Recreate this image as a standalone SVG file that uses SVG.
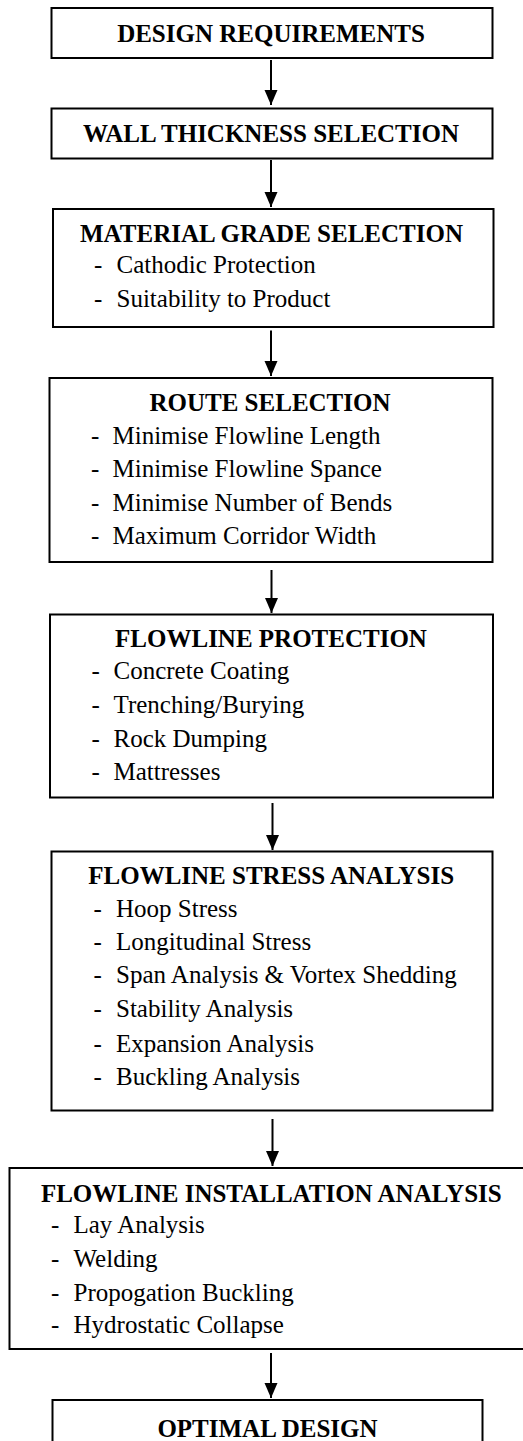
<svg xmlns="http://www.w3.org/2000/svg" width="523" height="1441" viewBox="0 0 523 1441">
<defs>
<style>
.box{fill:#fff;stroke:#000;stroke-width:2}
.t{font-family:"Liberation Serif","Times New Roman",serif;font-size:25px;font-weight:bold;fill:#000;text-anchor:middle}
.i{font-family:"Liberation Serif","Times New Roman",serif;font-size:25px;fill:#000}
.c{stroke:#000;stroke-width:2;fill:none;marker-end:url(#ah)}
</style>
<marker id="ah" markerUnits="userSpaceOnUse" markerWidth="15" markerHeight="14" refX="15" refY="7" orient="auto" viewBox="0 0 15 14">
<path d="M0,0.5 L15,7 L0,13.5 Z" fill="#000"/>
</marker>
</defs>
<rect width="523" height="1441" fill="#fff"/>
<g id="connectors">
<path class="c" d="M271,60 V105"/>
<path class="c" d="M271,160 V207"/>
<path class="c" d="M271,330.5 V376"/>
<path class="c" d="M271.5,570 V613"/>
<path class="c" d="M272.5,803 V850"/>
<path class="c" d="M272.5,1119 V1166"/>
<path class="c" d="M271,1353 V1398"/>
</g>
<g id="n1">
<rect class="box" x="51.5" y="8" width="441" height="50"/>
<text class="t" x="271" y="41.7">DESIGN REQUIREMENTS</text>
</g>
<g id="n2">
<rect class="box" x="51.5" y="108.5" width="441" height="50"/>
<text class="t" x="271" y="142.3">WALL THICKNESS SELECTION</text>
</g>
<g id="n3">
<rect class="box" x="53" y="209" width="440.5" height="118"/>
<text class="t" x="271.5" y="241.7">MATERIAL GRADE SELECTION</text>
<text class="i" y="273.3"><tspan x="94">-</tspan><tspan x="116.5">Cathodic Protection</tspan></text>
<text class="i" y="307.3"><tspan x="94">-</tspan><tspan x="116.5">Suitability to Product</tspan></text>
</g>
<g id="n4">
<rect class="box" x="49.5" y="378" width="443" height="184"/>
<text class="t" x="270" y="410.7">ROUTE SELECTION</text>
<text class="i" y="444"><tspan x="91">-</tspan><tspan x="112.5">Minimise Flowline Length</tspan></text>
<text class="i" y="476.7"><tspan x="91">-</tspan><tspan x="112.5">Minimise Flowline Spance</tspan></text>
<text class="i" y="510.7"><tspan x="91">-</tspan><tspan x="112.5">Minimise Number of Bends</tspan></text>
<text class="i" y="544"><tspan x="91">-</tspan><tspan x="112.5">Maximum Corridor Width</tspan></text>
</g>
<g id="n5">
<rect class="box" x="50" y="614.5" width="443" height="183"/>
<text class="t" x="271" y="647.3">FLOWLINE PROTECTION</text>
<text class="i" y="679.3"><tspan x="91.5">-</tspan><tspan x="113.5">Concrete Coating</tspan></text>
<text class="i" y="713.3"><tspan x="91.5">-</tspan><tspan x="113.5">Trenching/Burying</tspan></text>
<text class="i" y="746.7"><tspan x="91.5">-</tspan><tspan x="113.5">Rock Dumping</tspan></text>
<text class="i" y="780"><tspan x="91.5">-</tspan><tspan x="113.5">Mattresses</tspan></text>
</g>
<g id="n6">
<rect class="box" x="51.5" y="851.5" width="441" height="259"/>
<text class="t" x="271.2" y="884">FLOWLINE STRESS ANALYSIS</text>
<text class="i" y="916.7"><tspan x="93.5">-</tspan><tspan x="116">Hoop Stress</tspan></text>
<text class="i" y="950"><tspan x="93.5">-</tspan><tspan x="116">Longitudinal Stress</tspan></text>
<text class="i" y="983.3"><tspan x="93.5">-</tspan><tspan x="116">Span Analysis &amp; Vortex Shedding</tspan></text>
<text class="i" y="1017.3"><tspan x="93.5">-</tspan><tspan x="116">Stability Analysis</tspan></text>
<text class="i" y="1051.7"><tspan x="93.5">-</tspan><tspan x="116">Expansion Analysis</tspan></text>
<text class="i" y="1085"><tspan x="93.5">-</tspan><tspan x="116">Buckling Analysis</tspan></text>
</g>
<g id="n7">
<rect class="box" x="9.5" y="1168" width="520" height="181"/>
<text class="t" x="271.3" y="1201.7">FLOWLINE INSTALLATION ANALYSIS</text>
<text class="i" y="1233.3"><tspan x="51">-</tspan><tspan x="73.5">Lay Analysis</tspan></text>
<text class="i" y="1266.7"><tspan x="51">-</tspan><tspan x="73.5">Welding</tspan></text>
<text class="i" y="1300.7"><tspan x="51">-</tspan><tspan x="73.5">Propogation Buckling</tspan></text>
<text class="i" y="1333.3"><tspan x="51">-</tspan><tspan x="73.5">Hydrostatic Collapse</tspan></text>
</g>
<g id="n8">
<rect class="box" x="52.5" y="1400" width="430" height="60"/>
<text class="t" x="267.5" y="1437.3">OPTIMAL DESIGN</text>
</g>
</svg>
